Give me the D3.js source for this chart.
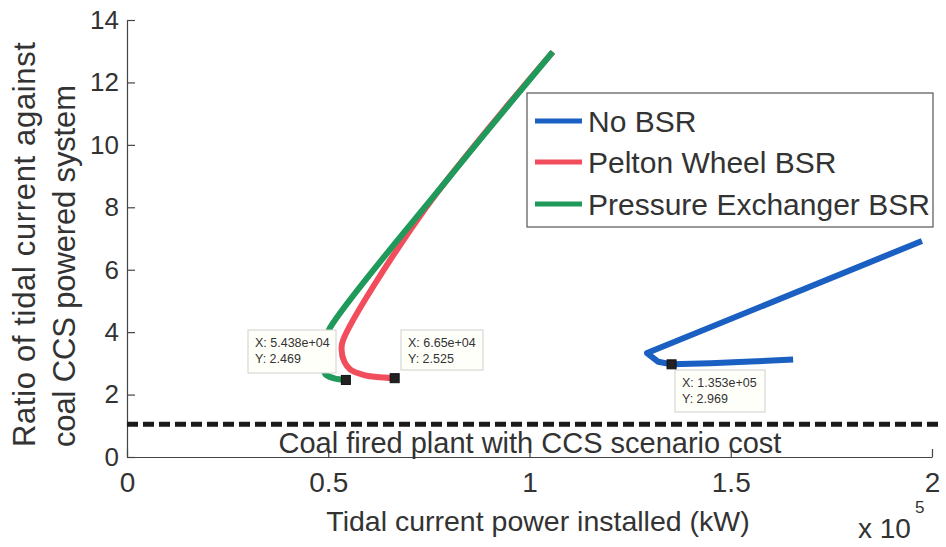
<!DOCTYPE html>
<html><head><meta charset="utf-8">
<script src="https://cdn.jsdelivr.net/npm/d3@7"></script>
<style>body{margin:0;background:#fff}svg{display:block}text{font-family:Arial,"Liberation Sans",sans-serif}</style>
</head><body><svg id="c" width="946" height="547"></svg>
<script>
// Data (x in kW, y ratio)
const seriesNames = ["No BSR", "Pelton Wheel BSR", "Pressure Exchanger BSR"];
const seriesColors = ["#1a5fc2", "#f24d5c", "#1f9a5b"];
const noBSR = [[197500,6.92],[129200,3.33],[132000,3.05],[135300,2.969],[145000,3.0],[155000,3.06],[165500,3.12]];
const pelton = [[105800,12.98],[73500,7.85],[53700,3.75],[53300,3.45],[54000,3.05],[55500,2.8],[58500,2.64],[62000,2.56],[66500,2.525]];
const pressure = [[105800,12.98],[80000,8.95],[50400,4.13],[48800,3.6],[48600,3.0],[49300,2.65],[51500,2.52],[54380,2.469]];
const xTicks = [0, 50000, 100000, 150000, 200000];
const yTicks = [0, 2, 4, 6, 8, 10, 12, 14];
const ccsLevel = 1.05;
const dataTips = [
  {x:54380, y:2.469, lx:"X: 5.438e+04", ly:"Y: 2.469"},
  {x:66500, y:2.525, lx:"X: 6.65e+04", ly:"Y: 2.525"},
  {x:135300, y:2.969, lx:"X: 1.353e+05", ly:"Y: 2.969"}
];

const svg = d3.select("#c");
const x = d3.scaleLinear().domain([0, 200000]).range([127, 932]);
const y = d3.scaleLinear().domain([0, 14]).range([457, 20]);
const axisCol = "#444", txtCol = "#333";

// Axes
const xAxis = d3.axisBottom(x).tickValues(xTicks).tickSizeInner(-8).tickSizeOuter(0)
  .tickFormat(d => d3.format("~g")(d / 1e5));
const gx = svg.append("g").attr("transform", "translate(0,457)").call(xAxis);
const yAxis = d3.axisLeft(y).tickValues(yTicks).tickSizeInner(-8).tickSizeOuter(0).tickPadding(8);
const gy = svg.append("g").attr("transform", "translate(127,0)").call(yAxis);
[gx, gy].forEach(g => {
  g.selectAll("path,line").attr("stroke", axisCol).attr("stroke-width", 1.2);
  g.selectAll("text").attr("fill", txtCol).style("font-family", "Arial, 'Liberation Sans', sans-serif");
});
gx.selectAll("text").style("font-size", "28px").attr("y", 35).attr("dy", 0);
gy.selectAll("text").style("font-size", "26px");

// CCS dashed line
svg.append("line").attr("x1", x(0)).attr("x2", 940).attr("y1", y(ccsLevel)).attr("y2", y(ccsLevel))
  .attr("stroke", "#1a1a1a").attr("stroke-width", 5).attr("stroke-dasharray", "11,5");
svg.append("text").attr("x", 530).attr("y", 453).attr("text-anchor", "middle").attr("fill", txtCol)
  .style("font-size", "29px").text("Coal fired plant with CCS scenario cost");

// Lines
const curved = d3.line().x(d => x(d[0])).y(d => y(d[1])).curve(d3.curveCatmullRom.alpha(0.5));
const straight = d3.line().x(d => x(d[0])).y(d => y(d[1]));
const all = [[noBSR, straight], [pelton, curved], [pressure, curved]];
all.forEach(([s, gen], i) => {
  svg.append("path").attr("d", gen(s)).attr("fill", "none").attr("stroke", seriesColors[i])
    .attr("stroke-width", 6).attr("stroke-linejoin", "round").attr("stroke-linecap", "butt");
});

// Data tips
const tipPos = [[248,330,88,43],[401,330,82,40],[675,370,90,42]];
dataTips.forEach((t, i) => {
  const [bx, by, bw, bh] = tipPos[i];
  svg.append("rect").attr("x", bx).attr("y", by).attr("width", bw).attr("height", bh)
    .attr("fill", "#fffffa").attr("stroke", "#cfcfcf").attr("stroke-width", 1);
  svg.append("text").attr("x", bx + 7).attr("y", by + 17).attr("fill", txtCol).style("font-size", "12.5px").text(t.lx);
  svg.append("text").attr("x", bx + 7).attr("y", by + 33).attr("fill", txtCol).style("font-size", "12.5px").text(t.ly);
  svg.append("rect").attr("x", x(t.x) - 4.5).attr("y", y(t.y) - 4.5).attr("width", 9).attr("height", 9)
    .attr("fill", "#222").attr("stroke", "#111");
});

// Legend
const lg = svg.append("g");
lg.append("rect").attr("x", 527).attr("y", 93).attr("width", 406).attr("height", 134)
  .attr("fill", "#fff").attr("stroke", "#555").attr("stroke-width", 1.2);
const rowsY = [121, 162, 204];
seriesNames.forEach((n, i) => {
  lg.append("line").attr("x1", 535).attr("x2", 582).attr("y1", rowsY[i]).attr("y2", rowsY[i])
    .attr("stroke", seriesColors[i]).attr("stroke-width", 5);
  lg.append("text").attr("x", 588).attr("y", rowsY[i] + 11).attr("fill", txtCol).style("font-size", "30px").text(n);
});

// Axis labels
svg.append("text").attr("x", 538).attr("y", 531).attr("text-anchor", "middle").attr("fill", txtCol)
  .style("font-size", "28.5px").text("Tidal current power installed (kW)");
const xl = svg.append("text").attr("x", 858).attr("y", 538).attr("fill", txtCol).style("font-size", "28px");
xl.append("tspan").text("x 10");
xl.append("tspan").attr("x", 915).attr("y", 513).style("font-size", "17px").text("5");
const yl = svg.append("text").attr("transform", "translate(35,447) rotate(-90)").attr("text-anchor", "start")
  .attr("fill", txtCol).style("font-size", "31px");
yl.append("tspan").attr("x", 0).attr("y", 0).attr("textLength", 405).attr("lengthAdjust", "spacing").text("Ratio of tidal current against");
yl.append("tspan").attr("x", 0).attr("y", 40).attr("textLength", 362).attr("lengthAdjust", "spacing").text("coal CCS powered system");
</script></body></html>
